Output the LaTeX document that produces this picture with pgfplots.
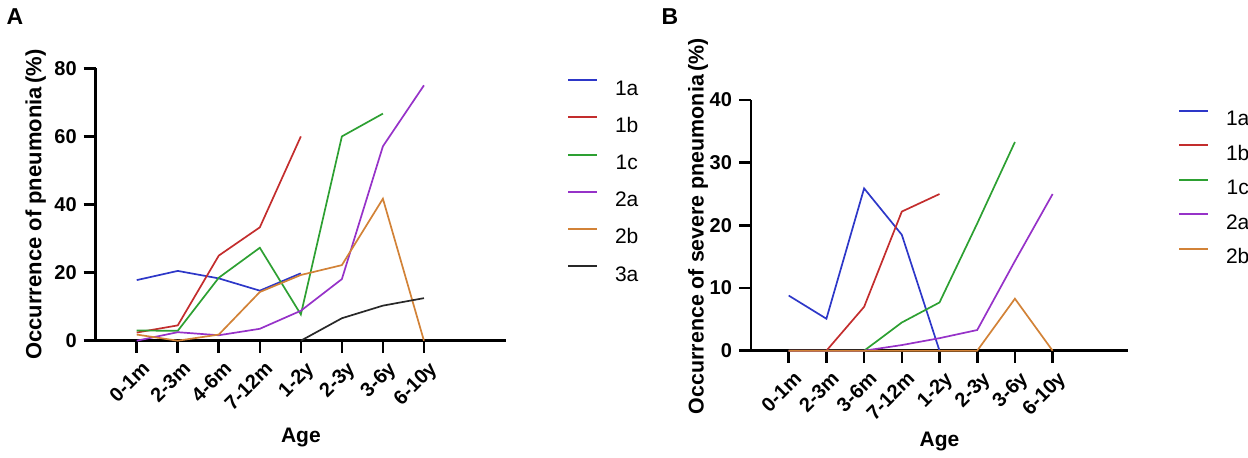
\documentclass[border=0pt]{standalone}
\usepackage{fontspec}
\setmainfont{Liberation Sans}
\usepackage{pgfplots}
\pgfplotsset{compat=1.18}

\definecolor{cA}{RGB}{45,55,200}
\definecolor{cB}{RGB}{195,45,45}
\definecolor{cC}{RGB}{45,160,50}
\definecolor{cD}{RGB}{150,50,200}
\definecolor{cE}{RGB}{210,130,55}
\definecolor{cF}{RGB}{40,40,40}

\pgfplotsset{
  panel/.style={
    scale only axis,
    xmin=-1, xmax=9, ymin=0,
    axis x line*=bottom, axis y line*=left,
    axis line style={-, line width=1.3pt, black},
    tick style={black, line width=1.3pt},
    major tick length=6pt,
    tick align=outside,
    xtick={0,...,7},
    clip=false,
    /pgf/number format/assume math mode=true,
    tick label style={font=\bfseries\fontsize{10}{12}\selectfont},
    x tick label style={xshift=2pt, yshift=-3.5pt, rotate=45, anchor=north east, inner sep=0pt},
    label style={font=\bfseries\fontsize{10.5}{12}\selectfont},
    every axis plot/.append style={line width=0.85pt},
    legend image code/.code={\draw[#1, line width=1pt] (0pt,3.7pt) -- (14.5pt,3.7pt);},
    legend style={draw=none, fill=none, inner sep=0pt, outer sep=0pt,
      anchor=north west,
      font=\fontsize{10.5}{12}\selectfont,
      nodes={inner sep=0pt, text height=7.5pt, text depth=0pt},
      /tikz/every odd column/.append style={column sep=8.5pt}},
  }
}

\begin{document}
\begin{tikzpicture}
\path[use as bounding box] (0,0) rectangle (624pt,228.5pt);

\node[font=\bfseries\fontsize{11.5}{13}\selectfont] at (7.5pt,220.15pt) {A};
\node[font=\bfseries\fontsize{11.5}{13}\selectfont] at (335pt,220.15pt) {B};

% Panel A
\begin{axis}[panel,
  at={(47.85pt,58.15pt)}, anchor=south west,
  width=205.15pt, height=136.2pt,
  ymax=80, ytick={0,20,40,60,80},
  xticklabels={0-1m,2-3m,4-6m,7-12m,1-2y,2-3y,3-6y,6-10y},
  xlabel={Age}, ylabel={Occurrence of pneumonia\,(\%)},
  ylabel style={font=\bfseries\fontsize{11}{12}\selectfont},
  xlabel style={at={(axis description cs:0.5,-0.357)}, anchor=center},
  ylabel style={at={(axis description cs:-0.146,0.5)}, anchor=center},
  legend style={at={(axis description cs:1.1487,0.960)}, row sep=10.65pt},
]
\addplot[cA] coordinates {(0,17.8) (1,20.5) (2,18.3) (3,14.7) (4,19.8)};
\addlegendentry{1a}
\addplot[cB] coordinates {(0,2.4) (1,4.5) (2,25.0) (3,33.3) (4,60.0)};
\addlegendentry{1b}
\addplot[cC] coordinates {(0,3.0) (1,2.9) (2,18.5) (3,27.3) (4,7.7) (5,60.0) (6,66.7)};
\addlegendentry{1c}
\addplot[cD] coordinates {(0,0) (1,2.5) (2,1.6) (3,3.5) (4,8.8) (5,18.1) (6,57.1) (7,75.0)};
\addlegendentry{2a}
\addplot[cE] coordinates {(0,1.8) (1,0) (2,1.8) (3,14.3) (4,19.3) (5,22.2) (6,41.7) (7,0)};
\addlegendentry{2b}
\addplot[cF] coordinates {(4,0) (5,6.6) (6,10.3) (7,12.5)};
\addlegendentry{3a}
\end{axis}

% Panel B
\begin{axis}[panel,
  at={(375.5pt,53.15pt)}, anchor=south west,
  width=188.5pt, height=125.35pt,
  ymax=40, ytick={0,10,20,30,40},
  xticklabels={0-1m,2-3m,3-6m,7-12m,1-2y,2-3y,3-6y,6-10y},
  xlabel={Age}, ylabel={Occurrence of severe pneumonia\,(\%)},
  ylabel style={font=\bfseries\fontsize{10.7}{12}\selectfont},
  xlabel style={at={(axis description cs:0.5,-0.364)}, anchor=center},
  ylabel style={at={(axis description cs:-0.1406,0.497)}, anchor=center},
  legend style={at={(axis description cs:1.1326,0.961)}, row sep=9.3pt},
]
\addplot[cA] coordinates {(0,8.8) (1,5.1) (2,25.9) (3,18.5) (4,0)};
\addlegendentry{1a}
\addplot[cB] coordinates {(0,0) (1,0) (2,7.0) (3,22.2) (4,25.0)};
\addlegendentry{1b}
\addplot[cC] coordinates {(0,0) (1,0) (2,0) (3,4.5) (4,7.7) (5,20.3) (6,33.3)};
\addlegendentry{1c}
\addplot[cD] coordinates {(0,0) (1,0) (2,0) (3,0.9) (4,2.0) (5,3.3) (6,14.3) (7,25.0)};
\addlegendentry{2a}
\addplot[cE] coordinates {(0,0) (1,0) (2,0) (3,0) (4,0) (5,0) (6,8.3) (7,0)};
\addlegendentry{2b}
\end{axis}
\end{tikzpicture}
\end{document}
